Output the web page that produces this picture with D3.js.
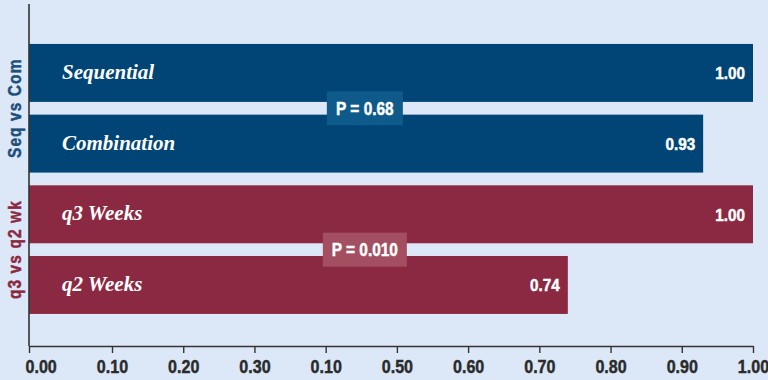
<!DOCTYPE html>
<html>
<head>
<meta charset="utf-8">
<script src="https://cdn.jsdelivr.net/npm/d3@7"></script>
<style>
  html, body { margin: 0; padding: 0; background: #dce8f7; }
  svg { display: block; }
  .cond { font-family: "Liberation Sans", Arial, sans-serif; font-weight: bold; }
  .serif { font-family: "Liberation Serif", "DejaVu Serif", serif; font-style: italic; font-weight: bold; }
</style>
</head>
<body>
<svg id="chart" width="768" height="380"></svg>
<script>
// Response ratios by schedule
const categories = ["Sequential", "Combination", "q3 Weeks", "q2 Weeks"];
const values = [1.00, 0.93, 1.00, 0.74];
const groupOf = [0, 0, 1, 1];

// Comparison groups and their P values
const groups = ["Seq vs Com", "q3 vs q2 wk"];
const pLabels = ["P = 0.68", "P = 0.010"];

// Axis ticks (labels printed as on the original axis)
const tickValues = [0, 0.1, 0.2, 0.3, 0.4, 0.5, 0.6, 0.7, 0.8, 0.9, 1.0];
const tickLabels = ["0.00", "0.10", "0.20", "0.30", "0.10", "0.50", "0.60", "0.70", "0.80", "0.90", "1.00"];

const barColor = ["#004575", "#8b2942"];
const boxColor = ["#0e5a8a", "#a34f61"];
const groupText = ["#1d4f7c", "#8b2942"];

const svg = d3.select("#chart");
const axisY = 346, axisLeft = 29, axisRight = 753;

// x scale: the first interval is drawn slightly wider than the rest
const x = d3.scaleLinear().domain([0, 0.1, 1]).range([axisLeft, 112, axisRight]);
const y = d3.scaleBand().domain(categories).range([37.6, 320.3])
  .paddingInner(0.18).paddingOuter(0.09);

// condensed heavy label helper: position by transform so the squeeze keeps the anchor
function narrowText(sel, px, py, squeeze, size, color, rot) {
  return sel.attr("class", "cond")
    .style("font-size", size + "px")
    .attr("fill", color)
    .attr("stroke", color)
    .attr("stroke-width", 0.45)
    .attr("transform", (d, i) => {
      const X = typeof px === "function" ? px(d, i) : px;
      const Y = typeof py === "function" ? py(d, i) : py;
      return `translate(${X},${Y})` + (rot ? ` rotate(${rot})` : "") + ` scale(${squeeze},1)`;
    });
}

// bars
svg.append("g").selectAll("rect").data(categories).join("rect")
  .attr("x", x(0))
  .attr("y", d => y(d))
  .attr("width", (d, i) => x(values[i]) - x(0))
  .attr("height", y.bandwidth())
  .attr("fill", (d, i) => barColor[groupOf[i]]);

// category names inside bars
svg.append("g").selectAll("text").data(categories).join("text")
  .attr("class", "serif")
  .attr("x", 62)
  .attr("y", d => y(d) + y.bandwidth() / 2 + 6)
  .attr("fill", "#fff")
  .style("font-size", "21px")
  .text(d => d);

// value labels at bar ends
narrowText(
  svg.append("g").selectAll("text").data(categories).join("text"),
  (d, i) => x(values[i]) - 8,
  d => y(d) + y.bandwidth() / 2 + 6.5,
  0.9, 17, "#fff")
  .attr("text-anchor", "end")
  .text((d, i) => values[i].toFixed(2));

// P value boxes straddling the gap between paired bars
groups.forEach((g, gi) => {
  const a = categories[gi * 2], b = categories[gi * 2 + 1];
  const cy = (y(a) + y.bandwidth() + y(b)) / 2;
  const cx = x(0.455);
  const w = gi === 0 ? 76 : 84;
  svg.append("rect")
    .attr("x", cx - w / 2).attr("y", cy - 17)
    .attr("width", w).attr("height", 34)
    .attr("fill", boxColor[gi]);
  narrowText(svg.append("text"), cx, cy + 6.5, 0.88, 17.5, "#fff")
    .attr("text-anchor", "middle")
    .text(pLabels[gi]);

  // rotated group label on the left
  narrowText(svg.append("text"), 20.5, cy, 0.88, 17.5, groupText[gi], -90)
    .attr("text-anchor", "middle")
    .attr("letter-spacing", 1.3)
    .text(g);
});

// axes
const TICK_SQUEEZE = 0.87;
const xAxis = d3.axisBottom(x)
  .tickValues(tickValues)
  .tickFormat((d, i) => tickLabels[i])
  .tickSize(7)
  .tickSizeOuter(0)
  .tickPadding(7);
const gx = svg.append("g").attr("transform", `translate(0,${axisY})`).call(xAxis);
gx.select(".domain").attr("stroke", "#333").attr("stroke-width", 1.6);
gx.selectAll(".tick line").attr("stroke", "#333").attr("stroke-width", 1.4);
gx.selectAll(".tick text")
  .attr("class", "cond")
  .attr("fill", "#2b2b2b")
  .attr("stroke", "#2b2b2b")
  .attr("stroke-width", 0.45)
  .style("font-size", "18.5px")
  .attr("transform", `scale(${TICK_SQUEEZE},1)`);
// the first label sits to the right of its tick so it stays clear of the edge
gx.selectAll(".tick text").filter(d => d === 0)
  .attr("text-anchor", "start")
  .attr("x", -4 / TICK_SQUEEZE);

svg.append("line")
  .attr("x1", axisLeft).attr("x2", axisLeft)
  .attr("y1", 4).attr("y2", axisY)
  .attr("stroke", "#333").attr("stroke-width", 1.6);
</script>
</body>
</html>
